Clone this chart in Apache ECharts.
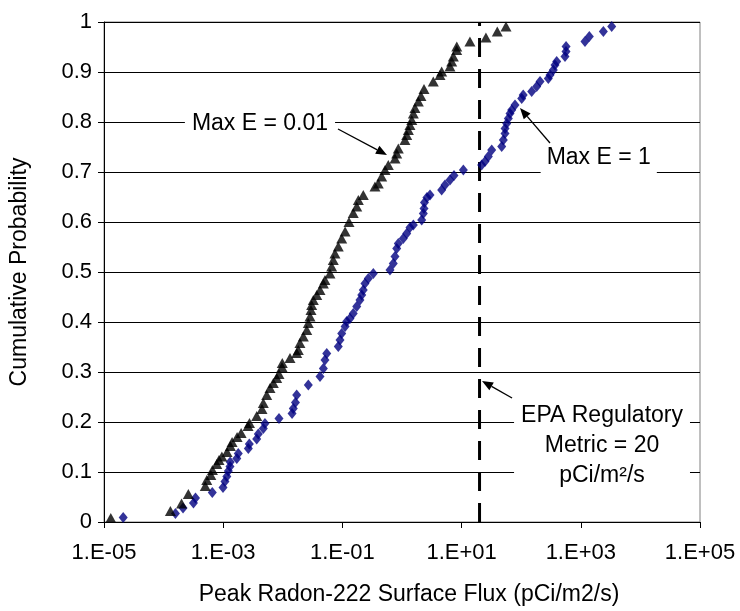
<!DOCTYPE html>
<html><head><meta charset="utf-8">
<script src="https://cdn.jsdelivr.net/npm/echarts@6/dist/echarts.min.js"></script>
<style>html,body{margin:0;padding:0;background:#fff}#c{width:740px;height:611px}</style>
</head><body><div id="c"></div>
<script>
// ---- data ----
const maxE001Flux = [1.3e-5, 1.3e-4, 2.0e-4, 2.6e-4, 5.0e-4, 5.3e-4, 6.2e-4, 6.6e-4, 7.8e-4, 8.5e-4, 9.5e-4,
  1.16e-3, 1.32e-3, 1.41e-3, 1.71e-3, 2.0e-3, 2.61e-3, 2.76e-3, 3.65e-3, 4.48e-3, 4.71e-3, 5.37e-3, 6.1e-3, 6.93e-3, 7.9e-3, 8.63e-3, 9.7e-3, 9.8e-3,
  1.32e-2, 1.71e-2, 1.82e-2, 1.94e-2, 2.21e-2, 2.52e-2, 2.68e-2, 2.86e-2, 2.97e-2, 3.05e-2, 3.25e-2, 3.71e-2, 4.21e-2, 4.79e-2, 5.1e-2, 6.19e-2, 6.6e-2, 7.03e-2, 7.5e-2, 8.53e-2, 9.73e-2,
  0.111, 0.129, 0.152, 0.174, 0.185, 0.224, 0.352, 0.40, 0.456, 0.519, 0.589, 0.763, 0.815, 0.867,
  1.12, 1.2, 1.28, 1.36, 1.46, 1.55, 1.65, 1.88, 2.08, 2.34, 3.35, 4.34, 4.63, 6.38, 6.82, 7.26, 8.27, 8.3,
  13.8, 25.6, 39.7, 55.6];
const maxE001Prob = [0.008, 0.022, 0.037, 0.056, 0.072, 0.084, 0.094, 0.104, 0.116, 0.124,
  0.131, 0.140, 0.152, 0.160, 0.170, 0.178, 0.192, 0.198, 0.212, 0.226,
  0.238, 0.254, 0.268, 0.278, 0.288, 0.296, 0.310, 0.318, 0.328, 0.338,
  0.344, 0.358, 0.371, 0.384, 0.398, 0.411, 0.424, 0.434, 0.444, 0.454,
  0.464, 0.477, 0.484, 0.497, 0.511, 0.524, 0.537, 0.551, 0.567, 0.581,
  0.600, 0.618, 0.631, 0.644, 0.654, 0.671, 0.677, 0.691, 0.704, 0.714,
  0.727, 0.737, 0.747, 0.764, 0.774, 0.784, 0.794, 0.804, 0.817, 0.828,
  0.841, 0.852, 0.866, 0.881, 0.894, 0.901, 0.911, 0.921, 0.931, 0.944,
  0.951, 0.961, 0.969, 0.981, 0.991];
const maxE1Flux = [2.1e-5, 1.58e-4, 2.12e-4, 3.17e-4, 3.43e-4, 6.56e-4, 9.93e-4,
  1.07e-3, 1.15e-3, 1.22e-3, 1.3e-3, 1.31e-3, 1.69e-3, 1.79e-3, 2.64e-3, 2.74e-3, 3.65e-3, 3.88e-3, 4.71e-3, 5.02e-3, 8.63e-3,
  1.43e-2, 1.5e-2, 1.63e-2, 1.71e-2, 2.68e-2, 4.21e-2, 4.79e-2, 5.1e-2, 5.46e-2, 8.53e-2, 9.12e-2, 9.73e-2,
  0.111, 0.118, 0.134, 0.152, 0.174, 0.197, 0.211, 0.224, 0.239, 0.272, 0.33, 0.629, 0.714, 0.763, 0.815, 0.867,
  1.05, 1.2, 1.36, 1.55, 2.14, 2.28, 2.34, 2.38, 2.62, 2.95, 4.63, 5.26, 6.38, 7.45,
  10.7, 21.7, 24.7, 28.1, 32.0, 47.1, 50.1, 53.5, 53.6, 57.1, 60.8, 64.9, 69.3, 78.7,
  102, 108, 150, 182, 207, 285, 304, 346, 369, 394, 543, 565, 566,
  1175, 1390, 2390, 3300];
const maxE1Prob = [0.009, 0.017, 0.028, 0.038, 0.048, 0.059, 0.069, 0.081, 0.091, 0.102,
  0.111, 0.120, 0.127, 0.137, 0.147, 0.156, 0.166, 0.176, 0.187, 0.197,
  0.207, 0.217, 0.227, 0.239, 0.254, 0.274, 0.291, 0.307, 0.324, 0.337,
  0.351, 0.364, 0.377, 0.391, 0.401, 0.407, 0.417, 0.431, 0.444, 0.454,
  0.464, 0.477, 0.487, 0.497, 0.504, 0.517, 0.531, 0.547, 0.557, 0.567,
  0.577, 0.589, 0.594, 0.604, 0.617, 0.627, 0.639, 0.649, 0.654, 0.664,
  0.674, 0.684, 0.693, 0.704, 0.714, 0.721, 0.731, 0.744, 0.751, 0.764,
  0.777, 0.787, 0.797, 0.807, 0.817, 0.824, 0.834, 0.847, 0.854, 0.861,
  0.871, 0.881, 0.887, 0.894, 0.904, 0.914, 0.921, 0.931, 0.941, 0.951,
  0.961, 0.971, 0.981, 0.991];
const epaMetric = 20;
const epaLineProb = [0, 1];
const xTickValues = [1e-5, 1e-3, 1e-1, 1e1, 1e3, 1e5];
const xTitle = 'Peak Radon-222 Surface Flux (pCi/m2/s)';
const yTitle = 'Cumulative Probability';
const labelMaxE001 = 'Max E = 0.01';
const labelMaxE1 = 'Max E = 1';
const labelEPA = 'EPA Regulatory\nMetric = 20\npCi/m\u00B2/s';

// ---- chart ----
const FONT = "'Liberation Sans', Arial, Helvetica, sans-serif";
const FS = 22;
function fmtX(v) {
  const e = Math.round(Math.log10(v));
  return '1.E' + (e < 0 ? '-' : '+') + String(Math.abs(e)).padStart(2, '0');
}
const pairs = (xs, ys) => xs.map((x, i) => [x, ys[i]]);

const chart = echarts.init(document.getElementById('c'), null, { renderer: 'canvas' });
chart.setOption({
  animation: false,
  backgroundColor: '#fff',
  grid: { left: 104, right: 40, top: 22, bottom: 89, show: true, borderColor: '#808080', borderWidth: 1 },
  xAxis: {
    type: 'log', logBase: 10, min: 1e-5, max: 1e5,
    name: xTitle, nameLocation: 'middle', nameGap: 61,
    nameTextStyle: { fontFamily: FONT, fontSize: 23, color: '#000', padding: [0, 0, 0, 14] },
    axisLine: { show: true, onZero: false, lineStyle: { color: '#000', width: 1 } },
    axisTick: { show: true, inside: false, length: 6, customValues: xTickValues, lineStyle: { color: '#000' } },
    axisLabel: { customValues: xTickValues, formatter: fmtX, margin: 20, fontFamily: FONT, fontSize: FS, color: '#000' },
    splitLine: { show: false }, minorTick: { show: false }, minorSplitLine: { show: false }
  },
  yAxis: {
    type: 'value', min: 0, max: 1, interval: 0.1,
    name: yTitle, nameLocation: 'middle', nameGap: 73, nameRotate: 90,
    nameTextStyle: { fontFamily: FONT, fontSize: 23, color: '#000' },
    axisLine: { show: true, lineStyle: { color: '#000', width: 1 } },
    axisTick: { show: true, inside: false, length: 6, lineStyle: { color: '#000' } },
    axisLabel: { margin: 12, fontFamily: FONT, fontSize: FS, color: '#000', formatter: v => String(+v.toFixed(1)) },
    splitLine: { show: true, lineStyle: { color: '#000', width: 1 } }
  },
  series: [
    { name: 'Max E = 1', type: 'scatter', symbol: 'diamond', symbolSize: [9, 11],
      itemStyle: { color: '#000080' }, data: pairs(maxE1Flux, maxE1Prob), z: 3 },
    { name: 'Max E = 0.01', type: 'scatter', symbol: 'triangle', symbolSize: [11, 10],
      itemStyle: { color: '#000' }, data: pairs(maxE001Flux, maxE001Prob), z: 4 },
    { name: 'EPA', type: 'line', symbol: 'none', silent: true,
      data: epaLineProb.map(p => [epaMetric, p]),
      lineStyle: { color: '#000', width: 3, type: [19, 12] }, z: 2 }
  ]
});

// ---- annotations (anchored in data space) ----
const P = (x, y) => chart.convertToPixel({ gridIndex: 0 }, [x, y]);
function textEl(pos, text, pad) {
  return { type: 'text', x: pos[0], y: pos[1], z: 10,
    style: { text, fontFamily: FONT, fontSize: 23, fill: '#000', align: 'center', verticalAlign: 'middle',
      lineHeight: 30, backgroundColor: '#fff', padding: pad } };
}
function arrowEls(from, to) {
  const a = P(from[0], from[1]), b = P(to[0], to[1]);
  const dx = b[0] - a[0], dy = b[1] - a[1], L = Math.hypot(dx, dy);
  const ux = dx / L, uy = dy / L, hl = 11, hw = 4.5;
  const base = [b[0] - ux * hl, b[1] - uy * hl];
  return [
    { type: 'line', z: 11, shape: { x1: a[0], y1: a[1], x2: base[0], y2: base[1] }, style: { stroke: '#000', lineWidth: 1.3 } },
    { type: 'polygon', z: 11, shape: { points: [b, [base[0] - uy * hw, base[1] + ux * hw], [base[0] + uy * hw, base[1] - ux * hw]] }, style: { fill: '#000' } }
  ];
}
chart.setOption({
  graphic: [
    textEl(P(4.14e-3, 0.797), labelMaxE001, [6, 7, 4, 7]),
    textEl(P(2000, 0.729), labelMaxE1, [8, 6, 10, 6]),
    textEl(P(2270, 0.152), labelEPA, [4, 7, 4, 7]),
    ...arrowEls([0.0843, 0.786], [0.56, 0.734]),
    ...arrowEls([304, 0.758], [95.5, 0.828]),
    ...arrowEls([70.2, 0.248], [22.0, 0.282])
  ]
});
</script>
</body></html>
